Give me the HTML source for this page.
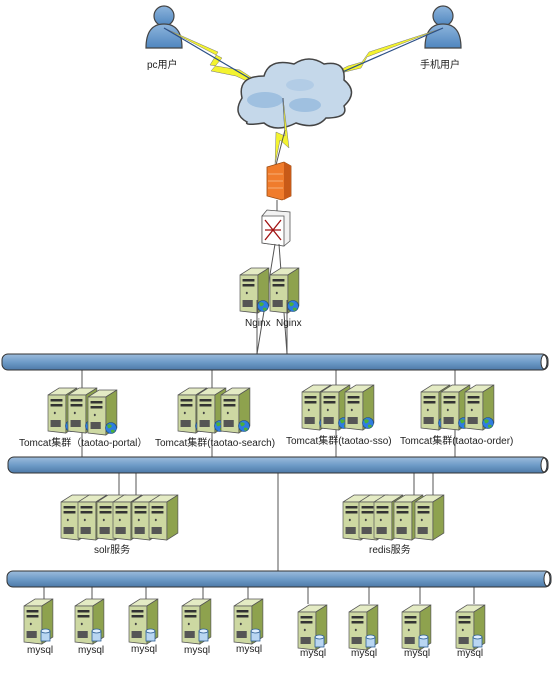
<!DOCTYPE html>
<html><head><meta charset="utf-8"><style>
html,body{margin:0;padding:0;background:#fff;}
svg{display:block;}
text{font-family:"Liberation Sans","Noto Sans CJK SC",sans-serif;font-size:10px;fill:#222;}
</style></head><body>
<svg width="554" height="690" viewBox="0 0 554 690" xmlns="http://www.w3.org/2000/svg">
<defs>
<linearGradient id="bus" x1="0" y1="0" x2="0" y2="1">
<stop offset="0" stop-color="#9dbcdc"/><stop offset="0.5" stop-color="#6f9cc8"/><stop offset="1" stop-color="#4d7aa8"/></linearGradient>
<linearGradient id="usr" x1="0" y1="0" x2="0" y2="1"><stop offset="0" stop-color="#8db4dc"/><stop offset="1" stop-color="#4f86bf"/></linearGradient>
<g id="srv0">
<polygon points="0,9 13,2 34,2 21,9" fill="#e4ebc4" stroke="#555" stroke-width="0.8"/>
<polygon points="21,9 34,2 34,40 21,47" fill="#8ea24e" stroke="#555" stroke-width="0.8"/>
<polygon points="0,9 21,9 21,47 0,45" fill="#cdd8a2" stroke="#555" stroke-width="0.8"/>
<rect x="3" y="13" width="14" height="2.5" fill="#333"/>
<rect x="3" y="18" width="14" height="2.5" fill="#333"/>
<circle cx="8" cy="27" r="1.2" fill="#444"/>
<rect x="3" y="34" width="12" height="7" fill="#555"/>
</g>
<g id="srv"><use href="#srv0" transform="scale(0.85,1)"/></g>
<g id="web"><use href="#srv"/><circle cx="23" cy="40" r="5.5" fill="#2f7de0" stroke="#1a4a80" stroke-width="0.6"/><path d="M19,37 q3,-2 5,1 q-2,3 -4,2z M23,42 q3,-1 4,1 q-2,3 -4,1z" fill="#4caf3a"/></g>
<g id="db"><use href="#srv"/><rect x="17" y="34" width="9" height="10" fill="#b9d6f2" stroke="#2d5f94" stroke-width="0.8"/><ellipse cx="21.5" cy="34" rx="4.5" ry="2" fill="#e0efff" stroke="#2d5f94" stroke-width="0.8"/></g>
<g id="user"><circle cx="0" cy="-10" r="10" fill="url(#usr)" stroke="#444" stroke-width="1.2"/><path d="M-18,22 q0,-24 18,-24 q18,0 18,24z" fill="url(#usr)" stroke="#444" stroke-width="1.2"/></g>
</defs>

<use href="#user" x="164" y="26"/>
<use href="#user" x="443" y="26"/>
<text x="147" y="68">pc用户</text>
<text x="420" y="68" fill="#444">手机用户</text>

<polygon points="164,28 218,52 210,65 240,70 283,98 236,76 211,71 222,58" fill="#f3f330" stroke="#777" stroke-width="0.5"/>
<polygon points="443,28 367,57 361,68 345,72 283,98 348,66 362,62 369,52" fill="#f3f330" stroke="#777" stroke-width="0.5"/>
<line x1="164" y1="28" x2="283" y2="98" stroke="#2b4f86" stroke-width="1.2"/>
<line x1="443" y1="28" x2="283" y2="98" stroke="#2b4f86" stroke-width="1.2"/>

<path d="M247,122 q-15,-8 -5,-24 q-5,-22 22,-22 q5,-18 30,-12 q15,-10 30,0 q22,-4 20,16 q15,12 0,26 q5,12 -18,12 q-10,12 -30,5 q-20,10 -32,0 q-20,3 -17,-1z" fill="#c5d8ea" stroke="#444" stroke-width="1.5"/>
<ellipse cx="265" cy="100" rx="18" ry="8" fill="#9fc0e0"/>
<ellipse cx="305" cy="105" rx="16" ry="7" fill="#9fc0e0"/>
<ellipse cx="300" cy="85" rx="14" ry="6" fill="#b2cce6"/>
<line x1="283" y1="98" x2="285" y2="130" stroke="#2b4f86" stroke-width="1.2"/>
<polygon points="283,98 289,148 280,140 275,165 276,132 285,136" fill="#f3f330" stroke="#777" stroke-width="0.5"/>
<line x1="285" y1="130" x2="276" y2="165" stroke="#555" stroke-width="1"/>

<polygon points="267,167 284,162 291,166 291,196 282,200 267,196" fill="#f07c2c" stroke="#9a4a10" stroke-width="0.8"/>
<polygon points="284,162 291,166 291,196 284,200" fill="#c85a18"/>
<g stroke="#fbd0a8" stroke-width="0.6"><line x1="268" y1="174" x2="283" y2="174"/><line x1="268" y1="181" x2="283" y2="181"/><line x1="268" y1="188" x2="283" y2="188"/></g>
<line x1="277" y1="200" x2="277" y2="212" stroke="#555"/>

<polygon points="262,216 267,210 290,212 290,241 284,246 262,243" fill="#f2f2f2" stroke="#555" stroke-width="0.8"/>
<polygon points="262,216 284,216 284,246 262,243" fill="#fff" stroke="#555" stroke-width="0.8"/>
<path d="M265,220 l16,20 M281,220 l-16,20 M265,230 h16" stroke="#a01010" stroke-width="1.3" fill="none"/>
<line x1="275" y1="244" x2="257" y2="354" stroke="#555"/>
<line x1="279" y1="244" x2="287" y2="354" stroke="#555"/>

<use href="#web" x="240" y="266"/>
<use href="#web" x="270" y="266"/>
<line x1="257" y1="300" x2="257" y2="354" stroke="#555"/>
<line x1="287" y1="300" x2="287" y2="354" stroke="#555"/>
<text x="245" y="326">Nginx</text>
<text x="276" y="326">Nginx</text>

<g stroke="#555" stroke-width="1">
<line x1="82" y1="370" x2="82" y2="457"/><line x1="212" y1="370" x2="212" y2="457"/>
<line x1="336" y1="370" x2="336" y2="457"/><line x1="455" y1="370" x2="455" y2="457"/>
<line x1="119" y1="473" x2="119" y2="500"/><line x1="136" y1="473" x2="136" y2="500"/>
<line x1="414" y1="473" x2="414" y2="500"/><line x1="433" y1="473" x2="433" y2="500"/>
<line x1="278" y1="473" x2="278" y2="571"/>
<line x1="44" y1="587" x2="44" y2="600"/><line x1="92" y1="587" x2="92" y2="600"/>
<line x1="146" y1="587" x2="146" y2="600"/><line x1="203" y1="587" x2="203" y2="600"/>
<line x1="248" y1="587" x2="248" y2="600"/><line x1="308" y1="587" x2="308" y2="604"/>
<line x1="369" y1="587" x2="369" y2="604"/><line x1="420" y1="587" x2="420" y2="604"/>
<line x1="474" y1="587" x2="474" y2="604"/>
</g>

<rect x="2" y="354" width="546" height="16" rx="6" fill="url(#bus)" stroke="#333" stroke-width="1"/>
<ellipse cx="544" cy="362" rx="3" ry="7" fill="#fff" stroke="#333"/>
<rect x="8" y="457" width="540" height="16" rx="6" fill="url(#bus)" stroke="#333" stroke-width="1"/>
<ellipse cx="544" cy="465" rx="3" ry="7" fill="#fff" stroke="#333"/>
<rect x="7" y="571" width="544" height="16" rx="6" fill="url(#bus)" stroke="#333" stroke-width="1"/>
<ellipse cx="547" cy="579" rx="3" ry="7" fill="#fff" stroke="#333"/>

<use href="#web" x="48" y="386"/><use href="#web" x="68" y="386"/><use href="#web" x="88" y="388"/>
<use href="#web" x="178" y="386"/><use href="#web" x="197" y="386"/><use href="#web" x="221" y="386"/>
<use href="#web" x="302" y="383"/><use href="#web" x="321" y="383"/><use href="#web" x="345" y="383"/>
<use href="#web" x="421" y="383"/><use href="#web" x="441" y="383"/><use href="#web" x="465" y="383"/>
<text x="19" y="446">Tomcat集群（taotao-portal）</text>
<text x="155" y="446">Tomcat集群(taotao-search)</text>
<text x="286" y="444">Tomcat集群(taotao-sso)</text>
<text x="400" y="444">Tomcat集群(taotao-order)</text>

<use href="#srv" x="61" y="493"/><use href="#srv" x="78" y="493"/><use href="#srv" x="97" y="493"/>
<use href="#srv" x="113" y="493"/><use href="#srv" x="132" y="493"/><use href="#srv" x="149" y="493"/>
<text x="94" y="553">solr服务</text>
<use href="#srv" x="343" y="493"/><use href="#srv" x="359" y="493"/><use href="#srv" x="374" y="493"/>
<use href="#srv" x="394" y="493"/><use href="#srv" x="415" y="493"/>
<text x="369" y="553">redis服务</text>

<use href="#db" x="24" y="597"/><use href="#db" x="75" y="597"/><use href="#db" x="129" y="597"/>
<use href="#db" x="182" y="597"/><use href="#db" x="234" y="597"/>
<use href="#db" x="298" y="603"/><use href="#db" x="349" y="603"/><use href="#db" x="402" y="603"/><use href="#db" x="456" y="603"/>
<g font-size="9">
<text x="27" y="653">mysql</text><text x="78" y="653">mysql</text><text x="131" y="652">mysql</text>
<text x="184" y="653">mysql</text><text x="236" y="652">mysql</text>
<text x="300" y="656">mysql</text><text x="351" y="656">mysql</text><text x="404" y="656">mysql</text><text x="457" y="656">mysql</text>
</g>
</svg>
</body></html>
